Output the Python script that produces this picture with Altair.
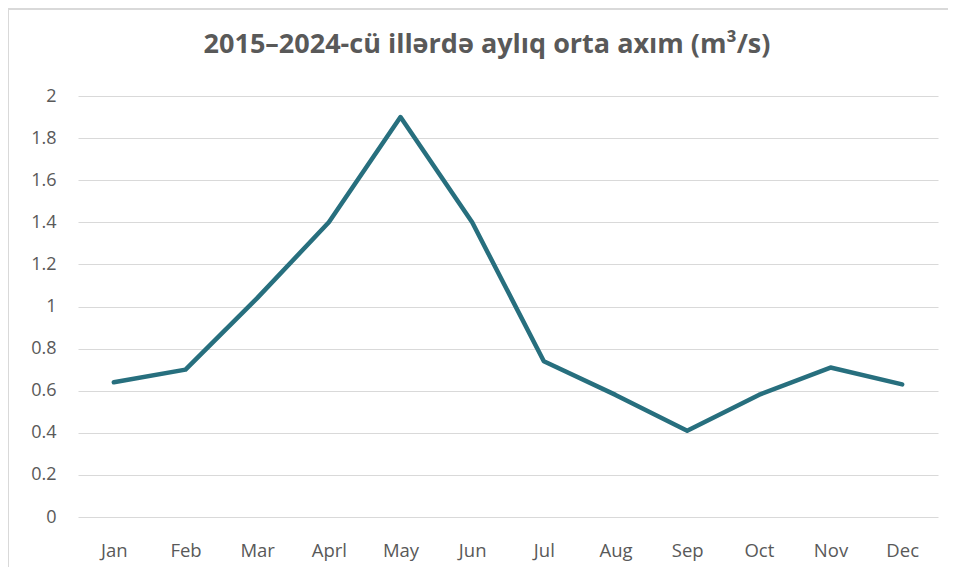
import altair as alt
import pandas as pd

months = ["Jan", "Feb", "Mar", "Aprl", "May", "Jun", "Jul", "Aug", "Sep", "Oct", "Nov", "Dec"]
flow = [0.64, 0.70, 1.04, 1.40, 1.90, 1.40, 0.74, 0.58, 0.41, 0.58, 0.71, 0.63]
title_text = "2015–2024-cü illərdə aylıq orta axım (m³/s)"

df = pd.DataFrame({"month": months, "flow": flow})

line = alt.Chart(df).mark_line(color="#276F7E", strokeWidth=4.5, strokeCap="round", strokeJoin="round").encode(
    x=alt.X("month:N", sort=months, title=None,
            scale=alt.Scale(type="point", padding=0.5),
            axis=alt.Axis(labelAngle=0, ticks=False, domain=False, grid=False,
                          labelPadding=24, labelFontSize=18.5, labelColor="#595959",
                          labelFont="Open Sans")),
    y=alt.Y("flow:Q", title=None,
            scale=alt.Scale(domain=[0, 2], nice=False),
            axis=alt.Axis(values=[0, 0.2, 0.4, 0.6, 0.8, 1, 1.2, 1.4, 1.6, 1.8, 2],
                          format="~g",
                          ticks=False, domain=False, gridColor="#d9d9d9", gridWidth=1.2,
                          labelPadding=22, labelFontSize=18, labelColor="#595959",
                          labelFont="Open Sans")),
)

border_v = alt.Chart(df).mark_rule(color="#d9d9d9", strokeWidth=2).encode(
    x=alt.value(-70), y=alt.value(-87), y2=alt.value(480)
)
border_h = alt.Chart(df).mark_rule(color="#d9d9d9", strokeWidth=2).encode(
    x=alt.value(-70), x2=alt.value(880), y=alt.value(-87)
)
title = alt.Chart(pd.DataFrame({"t": [title_text]})).mark_text(
    font="Open Sans", fontSize=27, fontWeight="bold", color="#595959",
    align="center", baseline="middle"
).encode(text="t:N", x=alt.value(409), y=alt.value(-51))

chart = alt.layer(border_v, border_h, line, title).properties(
    width=860, height=421,
    autosize=alt.AutoSizeParams(type="none"),
    padding={"left": 70, "top": 88, "right": 10, "bottom": 50},
).configure_view(stroke=None)

chart.save("out.html", embed_options={"renderer": "svg", "actions": False})
